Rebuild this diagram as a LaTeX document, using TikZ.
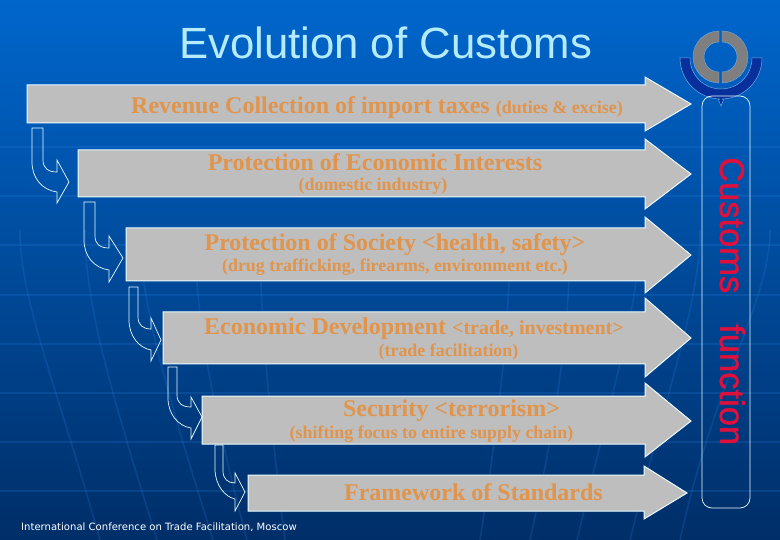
\documentclass[tikz,border=0pt]{standalone}
\usepackage{fontspec}
\setmainfont{Liberation Serif}
\setsansfont{Liberation Sans}
\newfontfamily\footfont{DejaVu Sans}
\newfontfamily\sidefont[FakeBold=1.2]{Liberation Sans}
\definecolor{slidetop}{HTML}{0066CC}
\definecolor{slidemid}{HTML}{0056AE}
\definecolor{slidebot}{HTML}{002E68}
\definecolor{barfill}{HTML}{BEBEBE}
\definecolor{bartext}{HTML}{E0944C}
\definecolor{edgeline}{HTML}{EAFCFF}
\definecolor{titletext}{HTML}{B5EBFF}
\definecolor{sidetext}{HTML}{E0103C}
\definecolor{logogrey}{HTML}{7F7F7F}
\definecolor{logoblue}{HTML}{08309C}
\definecolor{linetint}{HTML}{2A86E8}
\usetikzlibrary{positioning}

\begin{document}
\begin{tikzpicture}[
    x=1pt, y=-1pt,
    bararr/.style={draw=edgeline, fill=barfill, line width=1pt, line join=miter},
    bentarr/.style={draw=edgeline, line width=0.7pt},
    bglines/.style={draw=linetint, opacity=0.2, line width=1.6pt},
    headtxt/.style={anchor=base, inner sep=0pt, text=bartext, font=\fontsize{24}{26}\selectfont\bfseries},
    subtxt/.style={anchor=base, inner sep=0pt, text=bartext, font=\fontsize{17.9}{20}\selectfont\bfseries},
]
    \useasboundingbox (0,0) rectangle (780,540);
    % Background
    \fill[top color=slidetop, middle color=slidemid, bottom color=slidebot] (0,0) rectangle (780,540);
    \foreach \y in {147,196,245,295,344,393,442,491} {
        \draw[bglines] (0,\y) -- (780,\y);
    }
    \foreach \a/\b/\c in {20/55/100,85/107/157,140/163/213,195/205/247,260/265/285,
                          510/505/480,570/565/530,640/615/577,700/670/630,770/715/680} {
        \draw[bglines] (\a,230) .. controls (\a,300) and (\b,380) .. (\c,540);
    }

    % Logo
    \fill[logoblue, draw=white!45!slidetop, line width=0.5pt] (680,58) -- (690,58) arc[start angle=180, end angle=0, radius=31] -- (762,58)
        arc[start angle=0, end angle=88, radius=41] .. controls (724,99) .. (721,106) .. controls (718,99) .. (719.6,99)
        arc[start angle=92, end angle=180, radius=41] -- cycle;
    \fill[logogrey, draw=white!45!slidetop, line width=0.4pt] (719,31) arc[start angle=-90, end angle=-270, radius=26] -- (719,72)
        arc[start angle=90, end angle=270, radius=15] -- cycle;
    \fill[logogrey, draw=white!45!slidetop, line width=0.4pt] (722,31) arc[start angle=-90, end angle=90, radius=26] -- (722,72)
        arc[start angle=90, end angle=-90, radius=15] -- cycle;

    % Long arrows
    \foreach \x/\s/\e/\t/\m/\b in {27/85/123/77/104/131, 78/150/197/139/174/209, 126/228/281/217/255/293,
                                   163/312/364/298/338/377, 202/396/444/383/421/457} {
        \draw[bararr] (\x,\s) -- (645,\s) -- (645,\t) -- (691,\m) -- (645,\b) -- (645,\e) -- (\x,\e) -- cycle;
    }
    \draw[bararr] (248,475) -- (644,475) -- (644,466) -- (687,493) -- (644,519) -- (644,511) -- (248,511) -- cycle;

    % Bent arrows
    \foreach \l/\i/\t/\h/\x/\a/\b/\m/\c/\d in {32/43/128/57/69/160/172/182/192/203, 84/95/202/109/123/236/248/258/270/282,
                                               129/138/287/151/161/318/329/340/350/361, 168/177/367/191/202/397/407/417/428/439,
                                               215/223/445/235/245/473/483/492/499/511} {
        \draw[bentarr] (\l,\t) -- (\i,\t) -- (\i,\b-12) .. controls (\i,\b-4) and (\i+5,\b) .. (\h,\b) -- (\h,\a) -- (\x,\m)
            -- (\h,\d) -- (\h,\c) .. controls (\l+10,\c-2) and (\l,\c-14) .. (\l,\c-30) -- cycle;
    }

    % Side box
    \draw[draw=edgeline, line width=0.7pt, rounded corners=10pt] (702,96) rectangle (750,508);
    \node[anchor=base west, rotate=-90, inner sep=0pt, text=sidetext, font=\sidefont\fontsize{34.5}{36}\selectfont] (side) at (720,157) {Customs\hspace{31pt}function};

    % Names
    \node[anchor=base, inner sep=0pt, text=titletext, font=\sffamily\fontsize{43.7}{46}\selectfont] (title) at (385.5,59) {Evolution of Customs};
    \node[headtxt] (revenue) at (377,114) {Revenue Collection of import taxes {\fontsize{18}{20}\selectfont (duties \& excise)}};
    \node[headtxt] (economic) at (375,171) {Protection of Economic Interests};
    \node[subtxt] (domestic) at (373,191) {(domestic industry)};
    \node[headtxt] (society) at (395,251) {Protection of Society <health, safety>};
    \node[subtxt] (drug) at (395,272) {(drug trafficking, firearms, environment etc.)};
    \node[headtxt] (develop) at (414,335) {Economic Development {\fontsize{20}{22}\selectfont <trade, investment>}};
    \node[subtxt] (trade) at (448.5,356) {(trade facilitation)};
    \node[headtxt] (security) at (451.5,417) {Security <terrorism>};
    \node[subtxt] (shifting) at (431.5,438) {(shifting focus to entire supply chain)};
    \node[headtxt] (framework) at (473.5,500) {Framework of Standards};
    \node[anchor=base west, inner sep=0pt, text=white, font=\footfont\fontsize{10.07}{12}\selectfont] (footer) at (21,530) {International Conference on Trade Facilitation, Moscow};
\end{tikzpicture}
\end{document}
